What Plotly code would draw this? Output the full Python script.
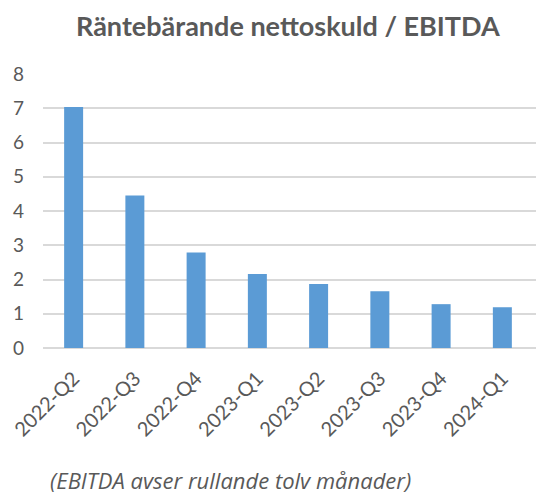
import plotly.graph_objects as go

categories = ["2022-Q2", "2022-Q3", "2022-Q4", "2023-Q1", "2023-Q2", "2023-Q3", "2023-Q4", "2024-Q1"]
values = [7.04, 4.45, 2.79, 2.16, 1.87, 1.66, 1.28, 1.19]
y_ticks = [0, 1, 2, 3, 4, 5, 6, 7, 8]

title_text = "Räntebärande nettoskuld / EBITDA"
footnote_text = "(EBITDA avser rullande tolv månader)"

FONT = "Lato"
TXT = "#595959"
GRID = "#d9d9d9"

# The page body has an 8px default margin, so the figure is drawn 8px in from the top-left.
W, H = 536, 487
L, T, B = 35, 66, 147
PW, PH = W - L, H - T - B

def px_x(v):
    return (v - L) / PW

def px_y(v):
    return (H - B - v) / PH

fig = go.Figure(go.Bar(x=categories, y=values, marker=dict(color="#5B9BD5", line=dict(width=0))))

fig.update_layout(
    width=W, height=H,
    margin=dict(l=L, r=0, t=T, b=B, pad=0),
    paper_bgcolor="white", plot_bgcolor="white",
    bargap=0.69,
    showlegend=False,
    font=dict(family=FONT, color=TXT, size=17),
)
fig.update_xaxes(
    range=[-0.5, 7.68], tickangle=-45, showgrid=False, showline=False, zeroline=False,
    ticks="", tickfont=dict(family=FONT, size=20, color=TXT), ticklabelstandoff=14,
)
fig.update_yaxes(
    range=[0, 8], tickvals=y_ticks, showgrid=True, gridcolor=GRID, gridwidth=1.5,
    zeroline=True, zerolinecolor=GRID, zerolinewidth=1.5, showline=False, ticks="",
    tickfont=dict(family=FONT, size=19, color=TXT), ticklabelstandoff=18,
)
fig.add_annotation(text="<b>" + title_text + "</b>", xref="paper", yref="paper",
                   x=px_x(280), y=px_y(17), xanchor="center", yanchor="middle", showarrow=False,
                   font=dict(family=FONT, size=27, color=TXT))
fig.add_annotation(text="<i>" + footnote_text + "</i>", xref="paper", yref="paper",
                   x=px_x(40), y=px_y(472), xanchor="left", yanchor="middle", showarrow=False,
                   font=dict(family="Open Sans", size=22, color=TXT))

fig.write_html("out.html")
